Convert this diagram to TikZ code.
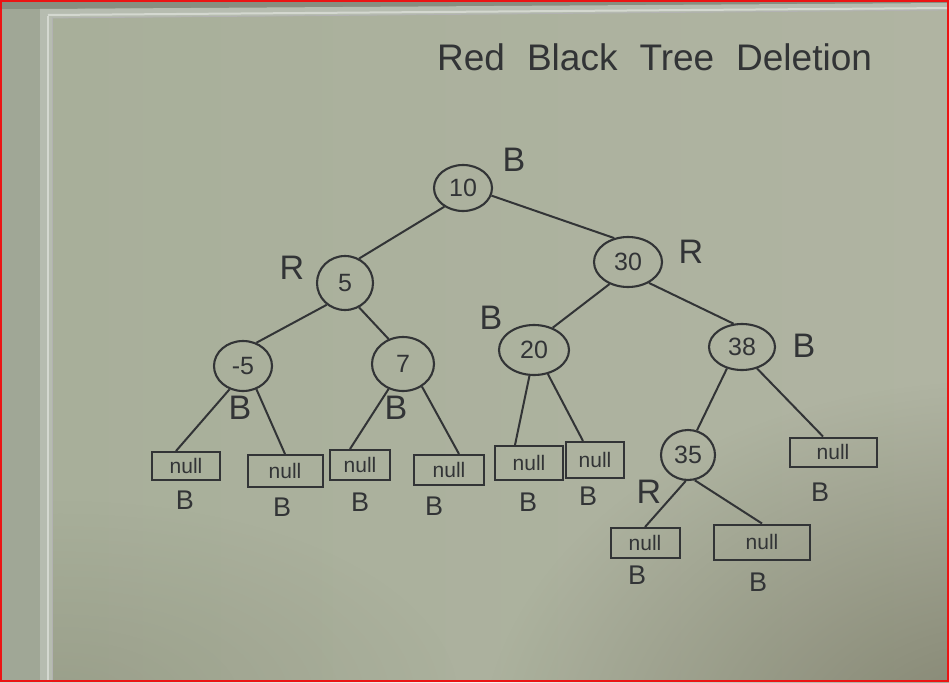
\documentclass[tikz,border=0pt]{standalone}
\usepackage{fontspec}
\setmainfont{Liberation Sans}
\usetikzlibrary{shapes.geometric,fadings}

\definecolor{inkc}{RGB}{50,52,54}
\definecolor{boardleft}{RGB}{168,175,154}
\definecolor{boardcentre}{RGB}{186,192,175}
\definecolor{boardright}{RGB}{176,180,162}
\definecolor{boarddark}{RGB}{112,112,92}
\definecolor{wallc}{RGB}{160,167,150}
\definecolor{framec}{RGB}{182,188,176}
\definecolor{framehi}{RGB}{212,216,208}
\definecolor{edgered}{RGB}{235,20,20}

\tikzfading[name=softspot, inner color=transparent!0, outer color=transparent!100]

\tikzset{
  keynode/.style={ellipse, draw=inkc, line width=2.1pt, inner sep=0pt,
    text=inkc, font=\fontsize{25}{25}\selectfont},
  nullbox/.style={rectangle, draw=inkc, line width=2pt, inner sep=0pt,
    text=inkc, font=\fontsize{21}{21}\selectfont},
  link/.style={draw=inkc, line width=2pt},
  tag/.style={text=inkc, inner sep=0pt, font=\fontsize{34}{34}\selectfont},
  leaftag/.style={tag, font=\fontsize{27}{27}\selectfont},
}

\begin{document}
\begin{tikzpicture}[x=1pt,y=-1pt]
\useasboundingbox (0,0) rectangle (949,682);

% wall and whiteboard surface
\fill[wallc] (0,0) rectangle (949,682);
\shade[left color=boardleft, middle color=boardcentre, right color=boardright]
  (52,18) -- (949,10) -- (949,682) -- (52,682) -- cycle;
% darker corner towards the bottom right
\fill[boarddark, opacity=0.75, path fading=softspot] (1000,760) ellipse (520pt and 380pt);
\fill[boarddark, opacity=0.25, path fading=softspot] (60,700) ellipse (400pt and 200pt);

% aluminium frame, top and left
\fill[wallc!85!black] (0,0) -- (949,0) -- (949,4) -- (40,9) -- (40,682) -- (0,682) -- cycle;
\fill[wallc] (0,9) rectangle (40,682);
\fill[framec] (40,9) -- (949,3) -- (949,10) -- (52,18) -- (52,682) -- (40,682) -- cycle;
\draw[framehi, line width=2.5pt] (48,16) -- (48,682);
\draw[framehi, line width=2pt] (48,15) -- (949,8);
\draw[gray!60, line width=0.8pt] (52,18) -- (949,10);
\draw[gray!60, line width=0.8pt] (52,18) -- (52,682);

% title
\node[tag, font=\fontsize{37}{37}\selectfont, anchor=west] (title) at (437,57)
  {Red\hspace{22pt}Black\hspace{22pt}Tree\hspace{22pt}Deletion};

% keys
\node[keynode, minimum width=58pt, minimum height=46pt] (k10) at (463,188) {10};
\node[keynode, minimum width=56pt, minimum height=54pt] (k5)  at (345,283) {5};
\node[keynode, minimum width=68pt, minimum height=50pt] (k30) at (628,262) {30};
\node[keynode, minimum width=58pt, minimum height=50pt] (km5) at (243,366) {-5};
\node[keynode, minimum width=62pt, minimum height=54pt] (k7)  at (403,364) {7};
\node[keynode, minimum width=70pt, minimum height=50pt] (k20) at (534,350) {20};
\node[keynode, minimum width=66pt, minimum height=46pt] (k38) at (742,347) {38};
\node[keynode, minimum width=54pt, minimum height=50pt] (k35) at (688,455) {35};

% null leaves
\node[nullbox, minimum width=68pt, minimum height=28pt] (n1) at (186,466) {null};
\node[nullbox, minimum width=75pt, minimum height=32pt] (n2) at (285,471) {null};
\node[nullbox, minimum width=60pt, minimum height=30pt] (n3) at (360,465) {null};
\node[nullbox, minimum width=70pt, minimum height=30pt] (n4) at (449,470) {null};
\node[nullbox, minimum width=68pt, minimum height=34pt] (n5) at (529,463) {null};
\node[nullbox, minimum width=58pt, minimum height=36pt] (n6) at (595,460) {null};
\node[nullbox, minimum width=69pt, minimum height=30pt] (n7) at (645,543) {null};
\node[nullbox, minimum width=96pt, minimum height=35pt] (n8) at (762,542) {null};
\node[nullbox, minimum width=87pt, minimum height=29pt] (n9) at (833,452) {null};

% colour tags
\node[tag] (c10) at (514,160) {B};
\node[tag] (c5)  at (292,268) {R};
\node[tag] (c30) at (691,252) {R};
\node[tag] (cm5) at (240,408) {B};
\node[tag] (c7)  at (396,408) {B};
\node[tag] (c20) at (491,318) {B};
\node[tag] (c38) at (804,346) {B};
\node[tag] (c35) at (649,492) {R};
\node[leaftag] (cn1) at (185,500) {B};
\node[leaftag] (cn2) at (282,507) {B};
\node[leaftag] (cn3) at (360,502) {B};
\node[leaftag] (cn4) at (434,506) {B};
\node[leaftag] (cn5) at (528,502) {B};
\node[leaftag] (cn6) at (588,496) {B};
\node[leaftag] (cn7) at (637,575) {B};
\node[leaftag] (cn8) at (758,582) {B};
\node[leaftag] (cn9) at (820,492) {B};

% tree edges
\draw[link] (k10.225) -- (k5.60);
\draw[link] (k10.345) -- (k30.120);
\draw[link] (k5.230) -- (km5.60);
\draw[link] (k5.300) -- (k7.120);
\draw[link] (k30.230) -- (k20.50);
\draw[link] (k30.315) -- (k38.110);
\draw[link] (km5.240) -- ([xshift=-10pt]n1.north);
\draw[link] (km5.300) -- (n2.north);
\draw[link] (k7.240) -- ([xshift=-10pt]n3.north);
\draw[link] (k7.310) -- ([xshift=10pt]n4.north);
\draw[link] (k20.260) -- ([xshift=-14pt]n5.north);
\draw[link] (k20.300) -- ([xshift=-12pt]n6.north);
\draw[link] (k38.235) -- (k35.70);
\draw[link] (k38.305) -- ([xshift=-10pt]n9.north);
\draw[link] (k35.265) -- (n7.north);
\draw[link] (k35.285) -- (n8.north);

% photo edge
\draw[edgered, line width=2pt] (1,1) rectangle (948,681);
\end{tikzpicture}
\end{document}
